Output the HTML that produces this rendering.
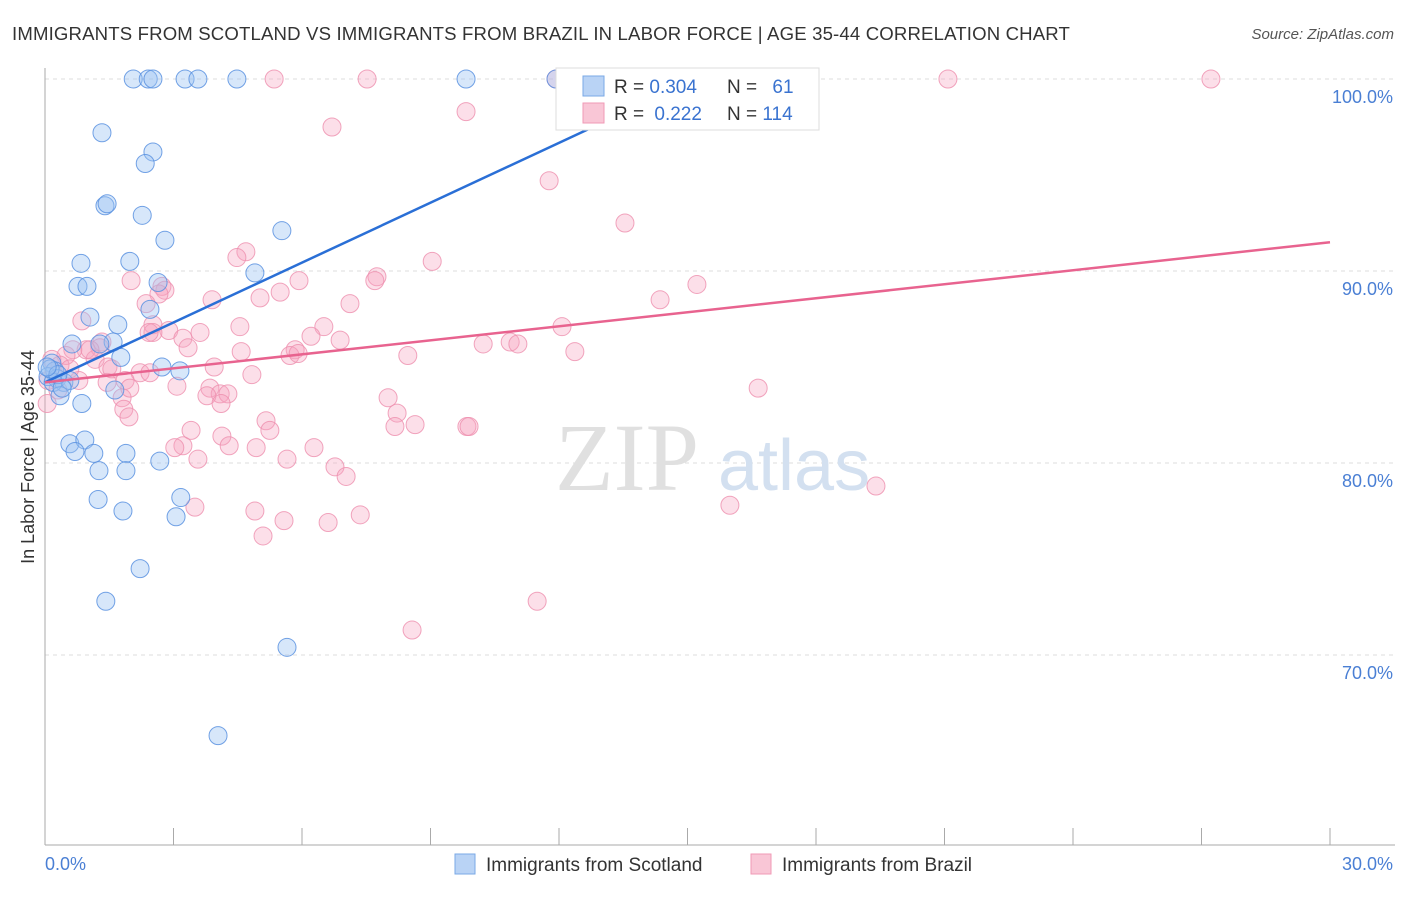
<!DOCTYPE html>
<html><head><meta charset="utf-8"><style>
body{margin:0;background:#fff;font-family:"Liberation Sans",sans-serif;}
</style></head><body>
<svg width="1406" height="892" viewBox="0 0 1406 892" style="font-family:'Liberation Sans',sans-serif">
<text x="12" y="40" font-size="18.6" letter-spacing="0.15" fill="#333">IMMIGRANTS FROM SCOTLAND VS IMMIGRANTS FROM BRAZIL IN LABOR FORCE | AGE 35-44 CORRELATION CHART</text>
<text x="1394" y="39" font-size="15" fill="#555" text-anchor="end" font-style="italic">Source: ZipAtlas.com</text>
<g id="grid"></g>
<text x="555" y="490" font-size="96" fill="#e0e0e0" font-family="Liberation Serif">ZIP</text>
<text x="718" y="490" font-size="72" fill="#d3e0f0">atlas</text>
<line x1="45" y1="68" x2="45" y2="845" stroke="#aaa"/>
<line x1="45" y1="845" x2="1395" y2="845" stroke="#aaa"/>
<g id="pts"></g>
<g id="trend"></g>
<text transform="translate(34,457) rotate(-90)" font-size="18" fill="#333" text-anchor="middle">In Labor Force | Age 35-44</text>
<text x="45" y="870" font-size="18" fill="#4a7fd4">0.0%</text>
<text x="1393" y="870" font-size="18" fill="#4a7fd4" text-anchor="end">30.0%</text>
<g>
<rect x="556" y="68" width="263" height="62" fill="#fff" stroke="#ddd"/>
<rect x="583" y="76" width="21" height="20" fill="#b9d3f5" stroke="#7aa8e6"/>
<rect x="583" y="103" width="21" height="20" fill="#f9c6d6" stroke="#f09ab6"/>
<text x="614" y="93" font-size="19" fill="#333">R = <tspan fill="#3a73d0">0.304</tspan></text>
<text x="727" y="93" font-size="19" fill="#333">N = <tspan fill="#3a73d0" dx="10">61</tspan></text>
<text x="614" y="120" font-size="19" fill="#333">R = <tspan fill="#3a73d0" dx="5">0.222</tspan></text>
<text x="727" y="120" font-size="19" fill="#333">N = <tspan fill="#3a73d0">114</tspan></text>
</g>
<g>
<rect x="455" y="854" width="20" height="20" fill="#b9d3f5" stroke="#7aa8e6"/>
<text x="486" y="871" font-size="19" fill="#333">Immigrants from Scotland</text>
<rect x="751" y="854" width="20" height="20" fill="#f9c6d6" stroke="#f09ab6"/>
<text x="782" y="871" font-size="19" fill="#333">Immigrants from Brazil</text>
</g>
</svg>
<script>
const yTicks=[100,90,80,70];
const yTickLabels=["100.0%","90.0%","80.0%","70.0%"];
const xTicks=[3,6,9,12,15,18,21,24,27,30];
const scotX=[2.06,2.41,2.52,3.27,3.57,4.48,9.83,11.93,1.33,2.52,2.34,1.40,1.45,2.27,2.80,5.53,0.84,1.98,0.77,0.98,2.64,4.90,1.05,1.70,2.45,1.59,0.63,1.28,1.77,0.16,0.23,0.07,0.28,0.44,0.58,0.19,0.35,0.86,1.63,2.73,3.15,0.58,0.93,0.70,1.14,1.89,1.26,1.89,2.68,1.24,3.17,1.82,3.06,2.22,1.42,5.65,4.04,0.12,0.30,0.40,0.05];
const scotY=[100,100,100,100,100,100,100,100,97.2,96.2,95.6,93.4,93.5,92.9,91.6,92.1,90.4,90.5,89.2,89.2,89.4,89.9,87.6,87.2,88.0,86.3,86.2,86.2,85.5,85.2,84.8,84.5,84.4,84.2,84.3,84.2,83.5,83.1,83.8,85.0,84.8,81.0,81.2,80.6,80.5,80.5,79.6,79.6,80.1,78.1,78.2,77.5,77.2,74.5,72.8,70.4,65.8,84.9,84.6,83.9,85.0];
const brX=[5.35,7.52,11.93,21.08,27.22,9.83,6.70,11.77,13.54,4.69,4.48,7.75,7.70,9.04,2.01,2.73,2.80,2.66,5.93,5.49,5.02,3.90,2.36,15.22,14.36,7.12,0.86,2.52,2.89,3.62,4.55,6.51,6.21,2.52,2.43,3.22,3.34,1.33,1.28,0.96,0.65,0.49,1.17,12.07,10.23,10.86,11.04,12.37,8.47,5.84,5.72,5.91,6.89,4.58,3.95,4.83,1.47,2.22,1.87,1.45,0.79,3.08,3.85,4.09,4.27,3.78,4.11,1.80,1.84,1.96,8.01,8.22,8.17,8.64,9.85,9.90,16.65,5.16,5.25,3.41,4.13,3.22,3.03,4.30,4.93,6.28,5.65,3.57,6.77,7.03,3.50,4.90,7.36,5.58,6.61,15.99,19.40,5.09,11.49,8.57,0.16,0.35,0.07,0.30,0.58,1.05,1.56,1.98,2.45,0.05];
const brY=[100,100,100,100,100,98.3,97.5,94.7,92.5,91.0,90.7,89.7,89.5,90.5,89.5,89.2,89.0,88.8,89.5,88.9,88.6,88.5,88.3,89.3,88.5,88.3,87.4,87.2,86.9,86.8,87.1,87.1,86.6,86.8,86.8,86.5,86.0,86.3,86.0,85.9,85.9,85.6,85.4,87.1,86.2,86.3,86.2,85.8,85.6,85.9,85.6,85.7,86.4,85.8,85.0,84.6,85.0,84.7,84.3,84.2,84.3,84.0,83.9,83.6,83.6,83.5,83.1,83.4,82.8,82.4,83.4,82.6,81.9,82.0,81.9,81.9,83.9,82.2,81.7,81.7,81.4,80.9,80.8,80.9,80.8,80.8,80.2,80.2,79.8,79.3,77.7,77.5,77.3,77.0,76.9,77.8,78.8,76.2,72.8,71.3,85.4,85.1,84.3,83.8,84.9,85.9,84.9,83.9,84.7,83.1];
const trendScot=[0,84.2,15.2,100];
const trendBr=[0,84.2,30,91.5];
const NS="http://www.w3.org/2000/svg";
const X=v=>45+v/30*1285, Y=v=>79+(100-v)*19.2;
function mk(t,a,p){const e=document.createElementNS(NS,t);for(const k in a)e.setAttribute(k,a[k]);p.appendChild(e);return e;}
const grid=document.getElementById('grid');
yTicks.forEach((t,i)=>{
 const l=mk('line',{x1:45,x2:1395,y1:Y(t),y2:Y(t),stroke:'#ddd','stroke-dasharray':'4,4'},grid);
 
 
 const tx=mk('text',{x:1393,y:Y(t)+24,'font-size':18,fill:'#4a7fd4','text-anchor':'end'},grid);
 tx.textContent=yTickLabels[i];
 
 
});
xTicks.forEach(t=>{
 const l=mk('line',{x1:X(t),x2:X(t),y1:828,y2:845,stroke:'#aaa'},grid);
 
 
});
const pts=document.getElementById('pts');
brX.forEach((x,i)=>{
 const c=mk('circle',{cx:X(x),cy:Y(brY[i]),r:9,fill:'#f6a3bf','fill-opacity':0.35,stroke:'#ee8fae','stroke-opacity':0.8},pts);
 
 
});
scotX.forEach((x,i)=>{
 const c=mk('circle',{cx:X(x),cy:Y(scotY[i]),r:9,fill:'#9cc2f2','fill-opacity':0.4,stroke:'#5a92e0','stroke-opacity':0.85},pts);
 
 
});
const tr=document.getElementById('trend');
const t1=mk('line',{x1:X(trendScot[0]),y1:Y(trendScot[1]),x2:X(trendScot[2]),y2:Y(trendScot[3]),stroke:'#2a6fd6','stroke-width':2.5},tr);


const t2=mk('line',{x1:X(trendBr[0]),y1:Y(trendBr[1]),x2:X(trendBr[2]),y2:Y(trendBr[3]),stroke:'#e8638f','stroke-width':2.5},tr);


</script>
</body></html>
